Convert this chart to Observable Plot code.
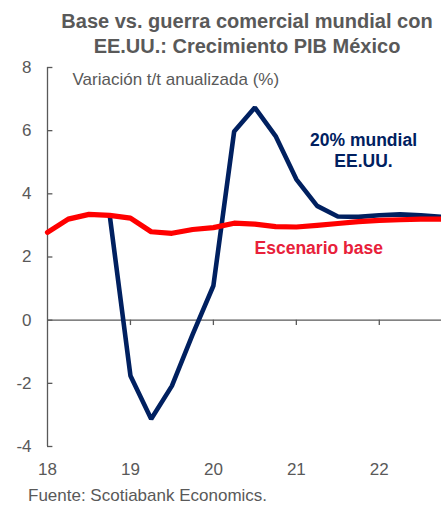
<!DOCTYPE html>
<html><head><meta charset="utf-8">
<script src="https://cdn.jsdelivr.net/npm/d3@7"></script>
<script src="https://cdn.jsdelivr.net/npm/@observablehq/plot@0.6"></script>
<style>
body{margin:0;width:441px;height:506px;position:relative;background:#fff;font-family:"Liberation Sans",Arial,sans-serif;overflow:hidden}
#title{position:absolute;top:9px;left:53px;width:388px;text-align:center;font-weight:bold;font-size:20px;line-height:24.5px;color:#595959;white-space:nowrap}
#chart{position:absolute;top:58px;left:0}
#caption{position:absolute;top:486px;left:28px;font-size:17px;line-height:20px;color:#595959;white-space:nowrap}
</style></head>
<body>
<div id="title">Base vs. guerra comercial mundial con<br>EE.UU.: Crecimiento PIB México</div>
<div id="chart"></div>
<div id="caption">Fuente: Scotiabank Economics.</div>
<script>
// Data
const quarters = [18, 18.25, 18.5, 18.75, 19, 19.25, 19.5, 19.75, 20, 20.25, 20.5, 20.75, 21, 21.25, 21.5, 21.75, 22, 22.25, 22.5, 22.75];
const baseValues = [2.78, 3.2, 3.35, 3.32, 3.23, 2.8, 2.75, 2.87, 2.93, 3.07, 3.04, 2.96, 2.95, 3.0, 3.06, 3.12, 3.16, 3.18, 3.2, 3.2];
const tradeWarValues = [null, null, null, 3.32, -1.76, -3.13, -2.08, -0.45, 1.09, 5.97, 6.73, 5.83, 4.46, 3.62, 3.28, 3.27, 3.32, 3.35, 3.32, 3.27];
const yTicks = [-4, -2, 0, 2, 4, 6, 8];
const xTicks = [18, 19, 20, 21, 22];
const xInnerTicks = [19, 20, 21, 22];
const yAxisTitle = "Variación t/t anualizada (%)";
const seriesLabels = [
  {text: "20% mundial\nEE.UU.", x: 21.81, y: 5.38, series: "war"},
  {text: "Escenario base", x: 21.27, y: 2.32, series: "base"}
];

const baseData = quarters.map((q, i) => ({x: q, y: baseValues[i]}));
const warData = quarters.map((q, i) => ({x: q, y: tradeWarValues[i] == null ? NaN : tradeWarValues[i]}));

const gray = "#595959";
const navy = "#002060";
const red = "#ff0000";
const redText = "#e8213a";

const chart = Plot.plot({
  width: 441,
  height: 430,
  marginTop: 9,
  marginBottom: 42,
  marginLeft: 47,
  marginRight: 0,
  style: {fontFamily: "'Liberation Sans', Arial, sans-serif", fontSize: "17px", color: gray, background: "transparent", overflow: "visible"},
  x: {domain: [18, 22.75]},
  y: {domain: [-4, 8]},
  marks: [
    Plot.ruleY([0], {stroke: gray, strokeWidth: 1.3}),
    Plot.ruleX([18], {y1: -4, y2: 8, stroke: gray, strokeWidth: 1.3}),
    Plot.axisY({ticks: yTicks, tickSize: 0, tickPadding: 16, tickFormat: d => String(d), label: null}),
    Plot.ruleY(yTicks, {x1: 18, x2: 18.065, stroke: gray, strokeWidth: 1.3}),
    Plot.axisX({ticks: xTicks, tickSize: 0, tickPadding: 16, tickFormat: d => String(d), label: null}),
    Plot.ruleX(xInnerTicks, {y1: 0, y2: -0.17, stroke: gray, strokeWidth: 1.3}),
    Plot.line(warData, {x: "x", y: "y", stroke: navy, strokeWidth: 4.6, strokeLinejoin: "miter"}),
    Plot.line(baseData, {x: "x", y: "y", stroke: red, strokeWidth: 5.2}),
    Plot.text([yAxisTitle], {frameAnchor: "top-left", dx: 25, dy: 11.6, textAnchor: "start", lineAnchor: "middle", fill: gray, fontSize: 17}),
    Plot.text(seriesLabels, {x: "x", y: "y", text: "text", fill: d => d.series === "war" ? navy : redText, fontWeight: "bold", fontSize: 17.5, lineHeight: 1.2, textAnchor: "middle", lineAnchor: "middle"})
  ]
});
document.getElementById("chart").appendChild(chart);
</script>
</body></html>
